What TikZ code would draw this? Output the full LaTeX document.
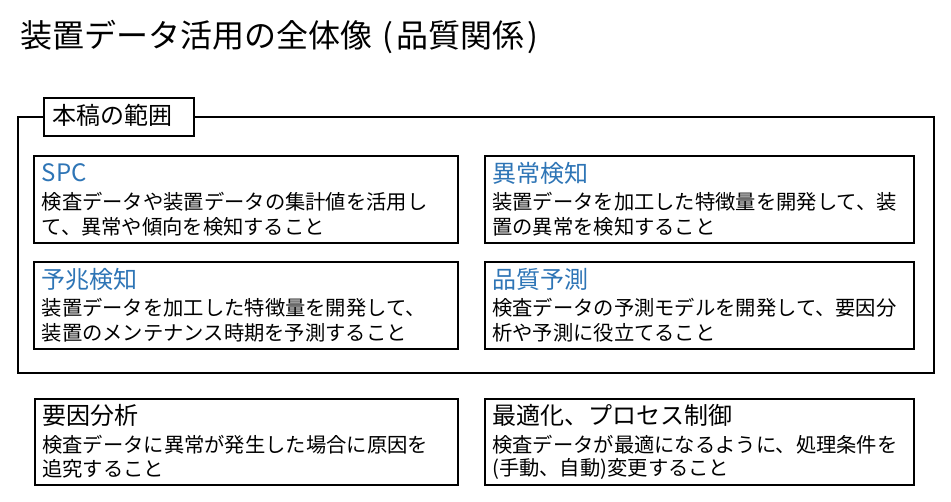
\documentclass[tikz,border=0pt]{standalone}
\usepackage{fontspec}
\setmainfont{Noto Sans CJK JP}
\definecolor{hdblue}{RGB}{46,117,182}
\tikzset{
  box/.style={draw=black, line width=2pt, fill=white, inner sep=0pt, anchor=north west},
  titletext/.style={font=\fontsize{32}{38}\selectfont, anchor=west, inner sep=0pt},
  labeltext/.style={font=\fontsize{24}{28}\selectfont, anchor=west, inner sep=0pt},
  headtext/.style={font=\fontsize{24}{28}\selectfont, anchor=west, inner sep=0pt},
  bodytext/.style={font=\fontsize{20.3}{24}\selectfont, anchor=west, inner sep=0pt}
}
\newcommand{\infobox}[9]{%
  \node[box, minimum width=#4pt, minimum height=#5pt] (#1) at (#2,#3) {};
  \node[headtext, text=#6] (#1h) at ([shift={(8.5pt,-18pt)}]#1.north west) {#7};
  \node[bodytext] (#1a) at ([shift={(8.5pt,-47pt)}]#1.north west) {#8};
  \node[bodytext] (#1b) at ([shift={(8.5pt,-71.5pt)}]#1.north west) {#9};
}
\begin{document}
\begin{tikzpicture}[x=1pt,y=-1pt]
\useasboundingbox (0,0) rectangle (951,501);
\node[titletext] (title) at (20,37.5) {装置データ活用の全体像\hspace{10pt}(\hspace{4pt}品質関係\hspace{2pt})};
\node[box, minimum width=916.3pt, minimum height=255.7pt, fill=none] (frame) at (16.7,116) {};
\node[box, minimum width=150pt, minimum height=38pt] (lbl) at (43,97) {};
\node[labeltext] (lbltext) at (52,115.5) {本稿の範囲};
\infobox{spc}{33}{155}{423.5}{86.5}{hdblue}{SPC}{検査データや装置データの集計値を活用し}{て、異常や傾向を検知すること}
\infobox{ijo}{483.5}{155}{429.5}{86.5}{hdblue}{異常検知}{装置データを加工した特徴量を開発して、装}{置の異常を検知すること}
\infobox{yocho}{33}{261}{423.5}{86.5}{hdblue}{予兆検知}{装置データを加工した特徴量を開発して、}{装置のメンテナンス時期を予測すること}
\infobox{hinshitsu}{483.5}{261}{429.5}{86.5}{hdblue}{品質予測}{検査データの予測モデルを開発して、要因分}{析や予測に役立てること}
\infobox{yoin}{33.5}{397.5}{423}{86.5}{black}{要因分析}{検査データに異常が発生した場合に原因を}{追究すること}
\infobox{saiteki}{483.5}{397.5}{429.5}{86.5}{black}{最適化、プロセス制御}{検査データが最適になるように、処理条件を}{(手動、自動)変更すること}
\end{tikzpicture}
\end{document}
